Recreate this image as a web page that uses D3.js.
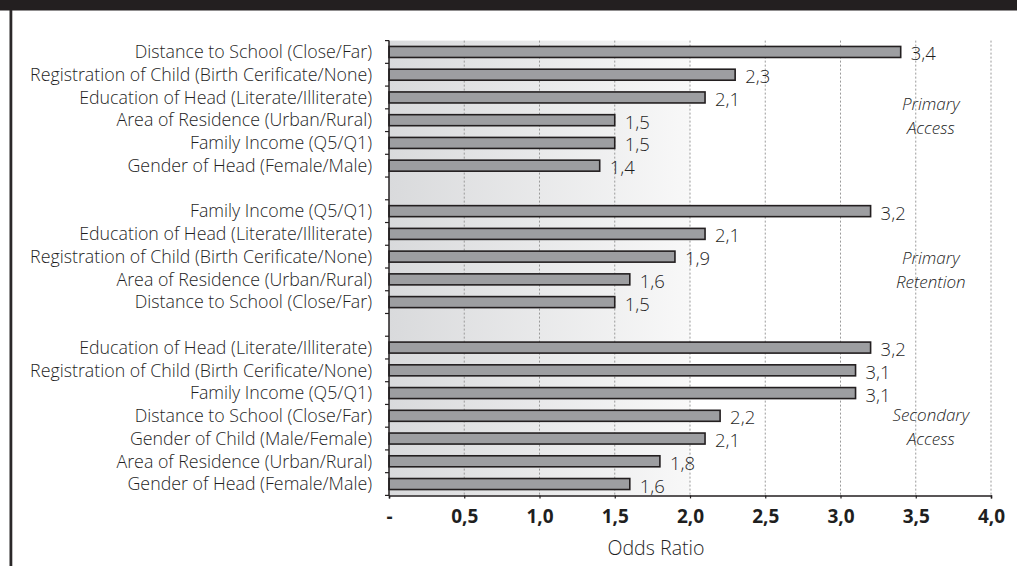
<!DOCTYPE html>
<html>
<head>
<meta charset="utf-8">
<script src="https://cdn.jsdelivr.net/npm/d3@7/dist/d3.min.js"></script>
<style>
  html, body { margin: 0; padding: 0; background: #fff; }
  svg { display: block; }
  text { font-family: "Open Sans", "Noto Sans", sans-serif; fill: #1f1f1f; }
</style>
</head>
<body>
<svg id="chart" width="1017" height="566"></svg>
<script>
// Odds ratios of school participation determinants, in three panels
const groupNames = ["Primary Access", "Primary Retention", "Secondary Access"];

const primaryAccessLabels = [
  "Distance to School (Close/Far)",
  "Registration of Child (Birth Cerificate/None)",
  "Education of Head (Literate/Illiterate)",
  "Area of Residence (Urban/Rural)",
  "Family Income (Q5/Q1)",
  "Gender of Head (Female/Male)"
];
const primaryAccessValues = [3.4, 2.3, 2.1, 1.5, 1.5, 1.4];

const primaryRetentionLabels = [
  "Family Income (Q5/Q1)",
  "Education of Head (Literate/Illiterate)",
  "Registration of Child (Birth Cerificate/None)",
  "Area of Residence (Urban/Rural)",
  "Distance to School (Close/Far)"
];
const primaryRetentionValues = [3.2, 2.1, 1.9, 1.6, 1.5];

const secondaryAccessLabels = [
  "Education of Head (Literate/Illiterate)",
  "Registration of Child (Birth Cerificate/None)",
  "Family Income (Q5/Q1)",
  "Distance to School (Close/Far)",
  "Gender of Child (Male/Female)",
  "Area of Residence (Urban/Rural)",
  "Gender of Head (Female/Male)"
];
const secondaryAccessValues = [3.2, 3.1, 3.1, 2.2, 2.1, 1.8, 1.6];

const xTicks = [0, 0.5, 1.0, 1.5, 2.0, 2.5, 3.0, 3.5, 4.0];
const xTitle = "Odds Ratio";

// ---- build rows (with an empty spacer row between panels) ----
const panels = [
  { name: groupNames[0], labels: primaryAccessLabels, values: primaryAccessValues },
  { name: groupNames[1], labels: primaryRetentionLabels, values: primaryRetentionValues },
  { name: groupNames[2], labels: secondaryAccessLabels, values: secondaryAccessValues }
];
const rows = [];
panels.forEach((p, gi) => {
  if (gi > 0) rows.push({ id: "gap" + gi, spacer: true });
  p.labels.forEach((l, i) => rows.push({ id: gi + "-" + i, label: l, value: p.values[i], group: gi }));
});

const svg = d3.select("#chart");
const W = 1017, H = 566;
const m = { left: 389, right: 26, top: 40.6, bottom: 70.6 };

const x = d3.scaleLinear().domain([0, 4]).range([m.left, W - m.right]);
const y = d3.scaleBand()
  .domain(rows.map(r => r.id))
  .range([m.top, H - m.bottom])
  .paddingInner(0.516)
  .paddingOuter(0.258);

// frame: dark band on top, rule down the left side
svg.append("rect").attr("x", 0).attr("y", 0).attr("width", W).attr("height", 10.5).attr("fill", "#231f20");
svg.append("rect").attr("x", 9.5).attr("y", 10).attr("width", 2.8).attr("height", H - 10).attr("fill", "#2b2829");

// background gradient behind the bars (fades out at 2.0)
const defs = svg.append("defs");
const grad = defs.append("linearGradient").attr("id", "bgfade").attr("x1", "0").attr("x2", "1").attr("y1", "0").attr("y2", "0");
grad.append("stop").attr("offset", "0%").attr("stop-color", "#d9dadc");
grad.append("stop").attr("offset", "100%").attr("stop-color", "#f8f8f8");
svg.append("rect")
  .attr("x", x(0)).attr("y", m.top)
  .attr("width", x(2) - x(0)).attr("height", (H - m.bottom) - m.top)
  .attr("fill", "url(#bgfade)");

// dotted gridlines
svg.append("g").selectAll("line")
  .data(xTicks.filter(d => d > 0))
  .join("line")
  .attr("x1", d => x(d)).attr("x2", d => x(d))
  .attr("y1", m.top).attr("y2", H - m.bottom)
  .attr("stroke", "#9a9a9a").attr("stroke-width", 1)
  .attr("stroke-dasharray", "2,2");

// bars
const dataRows = rows.filter(r => !r.spacer);
svg.append("g").selectAll("rect")
  .data(dataRows)
  .join("rect")
  .attr("x", x(0))
  .attr("y", d => y(d.id))
  .attr("width", d => x(d.value) - x(0))
  .attr("height", y.bandwidth())
  .attr("fill", "#9d9ea1")
  .attr("stroke", "#231f20")
  .attr("stroke-width", 1.6);

// value labels
const fmt = v => d3.format(".1f")(v).replace(".", ",");
svg.append("g").selectAll("text")
  .data(dataRows)
  .join("text")
  .attr("x", d => x(d.value) + 10)
  .attr("y", d => y(d.id) + y.bandwidth() / 2 + 2)
  .attr("dy", "0.35em")
  .attr("font-size", 18.5)
  .attr("font-weight", 300)
  .text(d => fmt(d.value));

// category labels
svg.append("g").selectAll("text")
  .data(dataRows)
  .join("text")
  .attr("x", x(0) - 17)
  .attr("y", d => y(d.id) + y.bandwidth() / 2)
  .attr("dy", "0.35em")
  .attr("text-anchor", "end")
  .attr("font-size", 17.8)
  .attr("font-weight", 300)
  .text(d => d.label);

// y axis line and boundary ticks
const step = y.step();
const boundaries = d3.range(rows.length + 1).map(i => m.top + i * step);
const yAxis = svg.append("g");
yAxis.append("line")
  .attr("x1", x(0)).attr("x2", x(0))
  .attr("y1", m.top).attr("y2", H - m.bottom)
  .attr("stroke", "#231f20").attr("stroke-width", 1.5);
yAxis.selectAll("line.tk")
  .data(boundaries)
  .join("line").attr("class", "tk")
  .attr("x1", x(0) - 4).attr("x2", x(0))
  .attr("y1", d => d).attr("y2", d => d)
  .attr("stroke", "#231f20").attr("stroke-width", 1.2);

// x axis
const xAxis = svg.append("g")
  .attr("transform", `translate(0,${H - m.bottom})`)
  .call(d3.axisBottom(x).tickValues(xTicks).tickSize(3).tickPadding(11)
    .tickFormat(d => d === 0 ? "-" : fmt(d)));
xAxis.select(".domain").attr("stroke", "#231f20").attr("stroke-width", 1.5);
xAxis.selectAll(".tick line").attr("stroke", "#231f20").attr("stroke-width", 1.2);
xAxis.selectAll(".tick text")
  .attr("font-size", 19).attr("font-weight", "bold")
  .attr("fill", "#231f20")
  .style("font-family", "'Open Sans', sans-serif");

svg.append("text")
  .attr("x", 656).attr("y", 555)
  .attr("text-anchor", "middle")
  .attr("font-size", 19.6)
  .attr("font-weight", 300)
  .text(xTitle);

// panel names (italic, one text per line)
const panelAnchor = [2.33, 9.1, 16.0]; // row position of the first line
const lineGap = 23.5;
panels.forEach((p, gi) => {
  const words = p.name.split(" ");
  const y0 = m.top + step * 0.5 + panelAnchor[gi] * step - 0.75;
  svg.append("g").selectAll("text")
    .data(words)
    .join("text")
    .attr("x", x(3.6))
    .attr("y", (w, i) => y0 + i * lineGap)
    .attr("dy", "0.35em")
    .attr("text-anchor", "middle")
    .attr("font-size", 17)
    .attr("font-weight", 300)
    .attr("font-style", "italic")
    .text(w => w);
});
</script>
</body>
</html>
